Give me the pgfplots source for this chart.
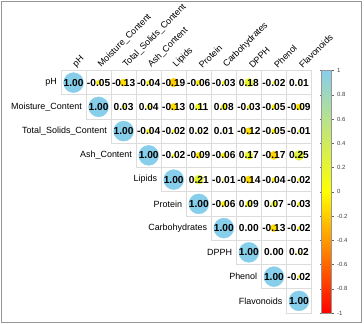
\documentclass[border=0pt]{standalone}
\usepackage{pgfplots}
\pgfplotsset{compat=1.18}
\usepackage{pgfplotstable}
\usepackage{fontspec}
\setmainfont{Liberation Sans}

\pgfplotstableread{
x y v
1 1 1.00
2 1 -0.05
3 1 -0.13
4 1 -0.04
5 1 -0.19
6 1 -0.06
7 1 -0.03
8 1 0.18
9 1 -0.02
10 1 0.01
2 2 1.00
3 2 0.03
4 2 0.04
5 2 -0.13
6 2 0.11
7 2 0.08
8 2 -0.03
9 2 -0.05
10 2 -0.09
3 3 1.00
4 3 -0.04
5 3 -0.02
6 3 0.02
7 3 0.01
8 3 -0.12
9 3 -0.05
10 3 -0.01
4 4 1.00
5 4 -0.02
6 4 -0.09
7 4 -0.06
8 4 0.17
9 4 -0.17
10 4 0.25
5 5 1.00
6 5 0.21
7 5 -0.01
8 5 -0.14
9 5 -0.04
10 5 -0.02
6 6 1.00
7 6 -0.06
8 6 0.09
9 6 0.07
10 6 -0.03
7 7 1.00
8 7 0.00
9 7 -0.13
10 7 -0.02
8 8 1.00
9 8 0.00
10 8 0.02
9 9 1.00
10 9 -0.02
10 10 1.00
}\corr

\pgfplotstableread{
i name
1 pH
2 Moisture\_Content
3 Total\_Solids\_Content
4 Ash\_Content
5 Lipids
6 Protein
7 Carbohydrates
8 DPPH
9 Phenol
10 Flavonoids
}\names

\definecolor{gridc}{RGB}{220,220,220}
\definecolor{framec}{RGB}{150,150,150}

\begin{document}
\begin{tikzpicture}
\path[use as bounding box] (0,0) rectangle (364bp,324bp);
\draw[framec, line width=0.8bp] (1.5bp,2bp) rectangle (361bp,322.5bp);
\begin{axis}[
  at={(61bp,253.5bp)}, anchor=north west,
  scale only axis, width=250.5bp, height=242.5bp,
  xmin=0.5, xmax=10.5, ymin=0.5, ymax=10.5,
  clip=false,
  axis line style={draw=none},
  major tick length=0pt,
  ytick=\empty,
  xtick={1,...,10},
  xticklabels={pH,Moisture\_Content,Total\_Solids\_Content,Ash\_Content,Lipids,Protein,Carbohydrates,DPPH,Phenol,Flavonoids},
  xticklabel pos=upper,
  x tick label style={xshift=4bp, yshift=0bp, rotate=45, anchor=south west, inner sep=1bp, font=\fontsize{9}{10}\selectfont},
  colormap={corr}{rgb255(0cm)=(255,0,0); rgb255(1cm)=(255,255,0); rgb255(2cm)=(135,206,235)},
  point meta min=-1, point meta max=1,
  colorbar,
  colorbar style={
    at={(parent axis.north east)}, anchor=north west, xshift=1.5bp,
    width=10bp,
    ytick={-1,-0.8,-0.6,-0.4,-0.2,0,0.2,0.4,0.6,0.8,1},
    yticklabels={-1,-0.8,-0.6,-0.4,-0.2,0,0.2,0.4,0.6,0.8,1},
    yticklabel style={font=\fontsize{6}{7}\selectfont, text=black!75},
    major tick length=2bp, tick align=outside,
    axis line style={draw=framec},
    tick style={draw=black!60},
  },
]
\pgfplotsinvokeforeach{1,...,11}{
  \draw[gridc, line width=0.6bp] (axis cs:{max(#1-1.5,0.5)},{11.5-#1}) -- (axis cs:10.5,{11.5-#1});
  \draw[gridc, line width=0.6bp] (axis cs:{#1-0.5},10.5) -- (axis cs:{#1-0.5},{max(10.5-#1,0.5)});
}
\addplot[scatter, only marks, mark=*,
  scatter/use mapped color={draw=mapped color, fill=mapped color},
  visualization depends on={sqrt(abs(\thisrow{v}))*10 \as \rad},
  scatter/@pre marker code/.append style={/tikz/mark size=\rad},
  point meta=explicit]
  table[x=x, y expr=11-\thisrow{y}, meta=v]{\corr};
\addplot[draw=none, mark=none, nodes near coords, point meta=explicit symbolic,
  every node near coord/.append style={anchor=center, inner sep=0pt, font=\bfseries\fontsize{10.2}{11}\selectfont, text=black}]
  table[x=x, y expr=11-\thisrow{y}, meta=v]{\corr};
\addplot[draw=none, mark=none, nodes near coords, point meta=explicit symbolic,
  every node near coord/.append style={anchor=east, inner sep=0pt, xshift=-4bp, font=\fontsize{9}{10}\selectfont, text=black}]
  table[x expr=\thisrow{i}-0.5, y expr=11-\thisrow{i}, meta=name]{\names};
\end{axis}
\end{tikzpicture}
\end{document}
